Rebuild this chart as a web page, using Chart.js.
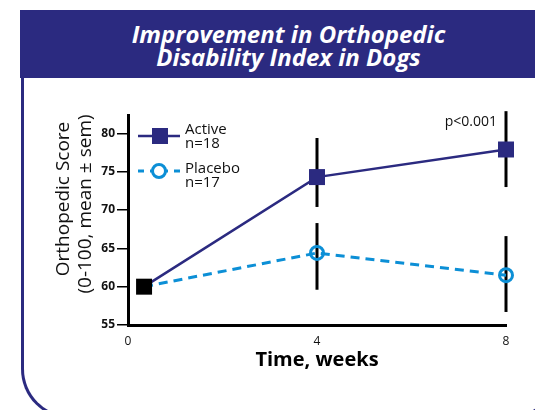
<!DOCTYPE html>
<html lang="en">
<head>
<meta charset="UTF-8">
<title>Orthopedic Disability Index</title>
<script src="https://cdn.jsdelivr.net/npm/chart.js@4.4.1/dist/chart.umd.min.js"></script>
<style>
    body {
        margin: 0;
        background: #fff;
        font-family: "Open Sans", sans-serif;
    }
    .page {
        position: relative;
        width: 535px;
        height: 410px;
        overflow: hidden;
        background: #fff;
    }
    .frame {
        position: absolute;
        left: 21px;
        top: 60px;
        width: 533px;
        height: 356px;
        border: 3px solid #2b2a80;
        border-top: none;
        border-radius: 0 0 50px 50px;
    }
    .banner {
        position: absolute;
        left: 20px;
        top: 10px;
        width: 537px;
        height: 68px;
        background: #2b2a80;
        color: #fff;
        font: italic bold 24px "Open Sans", sans-serif;
        line-height: 23px;
        text-align: center;
        box-sizing: border-box;
        padding-top: 12px;
    }
    canvas {
        position: absolute;
        left: 0;
        top: 0;
    }
</style>
</head>
<body>
<div class="page">
    <div class="frame"></div>
    <div class="banner">Improvement in Orthopedic<br>Disability Index in Dogs</div>
    <canvas id="chart" width="535" height="410"></canvas>
</div>

<script>
// time points (weeks) as placed on the chart
var weeks = [0.34, 4, 8];
var xTicks = [0, 4, 8];
var yTicks = [55, 60, 65, 70, 75, 80];

// mean scores
var active = [60, 74.3, 77.9];
var placebo = [60, 64.4, 61.5];

// error bar ends (mean ± sem)
var activeHi = [null, 79.4, 82.9];
var activeLo = [null, 70.4, 73.0];
var placeboHi = [null, 68.3, 66.6];
var placeboLo = [null, 59.6, 56.7];

var NAVY = '#2b2a80';
var BLUE = '#0c8fd6';

function points(xs, ys) {
    return xs.map(function (x, i) { return {x: x, y: ys[i]}; });
}

// error bars, drawn under the markers
var errorBars = {
    id: 'errorBars',
    beforeDatasetsDraw: function (chart) {
        var ctx = chart.ctx;
        var xs = chart.scales.x, ys = chart.scales.y;
        var sets = [[activeHi, activeLo], [placeboHi, placeboLo]];
        ctx.save();
        ctx.strokeStyle = '#000';
        ctx.lineWidth = 3;
        sets.forEach(function (s) {
            weeks.forEach(function (w, i) {
                if (s[0][i] == null) return;
                var px = xs.getPixelForValue(w);
                ctx.beginPath();
                ctx.moveTo(px, ys.getPixelForValue(s[0][i]));
                ctx.lineTo(px, ys.getPixelForValue(s[1][i]));
                ctx.stroke();
            });
        });
        ctx.restore();
    }
};

// legend, y title and p value
var extras = {
    id: 'extras',
    afterDraw: function (chart) {
        var ctx = chart.ctx;
        ctx.save();

        // y axis title (two lines)
        ctx.fillStyle = '#111';
        ctx.font = '19px "Open Sans"';
        ctx.textAlign = 'center';
        ctx.textBaseline = 'middle';
        ctx.save();
        ctx.translate(64, 199);
        ctx.rotate(-Math.PI / 2);
        ctx.fillText('Orthopedic Score', 0, 0);
        ctx.restore();
        ctx.save();
        ctx.translate(86, 204);
        ctx.rotate(-Math.PI / 2);
        ctx.fillText('(0-100, mean \u00b1 sem)', 0, 0);
        ctx.restore();

        // legend: active
        ctx.strokeStyle = NAVY;
        ctx.lineWidth = 2.5;
        ctx.beginPath();
        ctx.moveTo(138, 136);
        ctx.lineTo(180, 136);
        ctx.stroke();
        ctx.fillStyle = NAVY;
        ctx.fillRect(152, 128, 16, 16);

        // legend: placebo
        ctx.strokeStyle = BLUE;
        ctx.lineWidth = 3;
        ctx.setLineDash([6, 6]);
        ctx.beginPath();
        ctx.moveTo(138, 171);
        ctx.lineTo(180, 171);
        ctx.stroke();
        ctx.setLineDash([]);
        ctx.fillStyle = '#fff';
        ctx.beginPath();
        ctx.arc(159, 171, 6.5, 0, Math.PI * 2);
        ctx.fill();
        ctx.stroke();

        ctx.fillStyle = '#111';
        ctx.font = '15px "Open Sans"';
        ctx.textAlign = 'left';
        ctx.textBaseline = 'alphabetic';
        ctx.fillText('Active', 185, 134);
        ctx.fillText('n=18', 185, 148);
        ctx.fillText('Placebo', 185, 173);
        ctx.fillText('n=17', 185, 187);

        ctx.font = '14px "Open Sans"';
        ctx.textAlign = 'right';
        ctx.fillText('p<0.001', 497, 126);
        ctx.restore();
    }
};

var ctx = document.getElementById('chart').getContext('2d');

var chart = new Chart(ctx, {
    type: 'line',
    data: {
        datasets: [
            {
                label: 'Active',
                data: points(weeks, active),
                borderColor: NAVY,
                borderWidth: 2.5,
                pointStyle: 'rect',
                pointRadius: 11.3,
                pointBorderWidth: 0,
                pointBackgroundColor: ['#000', NAVY, NAVY],
                clip: false
            },
            {
                label: 'Placebo',
                data: points(weeks, placebo),
                borderColor: BLUE,
                borderWidth: 3,
                borderDash: [9, 6],
                pointStyle: 'circle',
                pointRadius: [0, 6.5, 6.5],
                pointBorderWidth: 3,
                pointBorderColor: BLUE,
                pointBackgroundColor: 'rgba(0,0,0,0)',
                clip: false
            }
        ]
    },
    options: {
        responsive: false,
        animation: false,
        devicePixelRatio: 1,
        layout: {
            padding: {left: 0, top: 115, right: 29, bottom: 0}
        },
        plugins: {
            legend: {display: false},
            tooltip: {enabled: false}
        },
        scales: {
            x: {
                type: 'linear',
                min: 0,
                max: 8,
                afterBuildTicks: function (scale) {
                    scale.ticks = xTicks.map(function (v) { return {value: v}; });
                },
                afterFit: function (scale) { scale.height = 85; },
                grid: {display: false, drawTicks: false},
                border: {display: true, color: '#000', width: 3},
                ticks: {
                    color: '#111',
                    font: {family: 'Open Sans', size: 12},
                    padding: 9,
                    maxRotation: 0
                },
                title: {
                    display: true,
                    text: 'Time, weeks',
                    color: '#000',
                    font: {family: 'Open Sans', size: 20, weight: 'bold'},
                    padding: {top: 0, bottom: 38}
                }
            },
            y: {
                min: 55,
                max: 82.4,
                afterBuildTicks: function (scale) {
                    scale.ticks = yTicks.map(function (v) { return {value: v}; });
                },
                afterFit: function (scale) { scale.width = 128; },
                grid: {
                    drawOnChartArea: false,
                    drawTicks: true,
                    tickLength: 11,
                    color: '#000',
                    lineWidth: 1.5
                },
                border: {display: true, color: '#000', width: 3},
                ticks: {
                    color: '#111',
                    font: {family: 'Open Sans', size: 12, weight: 'bold'},
                    padding: 2
                }
            }
        }
    },
    plugins: [errorBars, extras]
});
</script>
</body>
</html>
